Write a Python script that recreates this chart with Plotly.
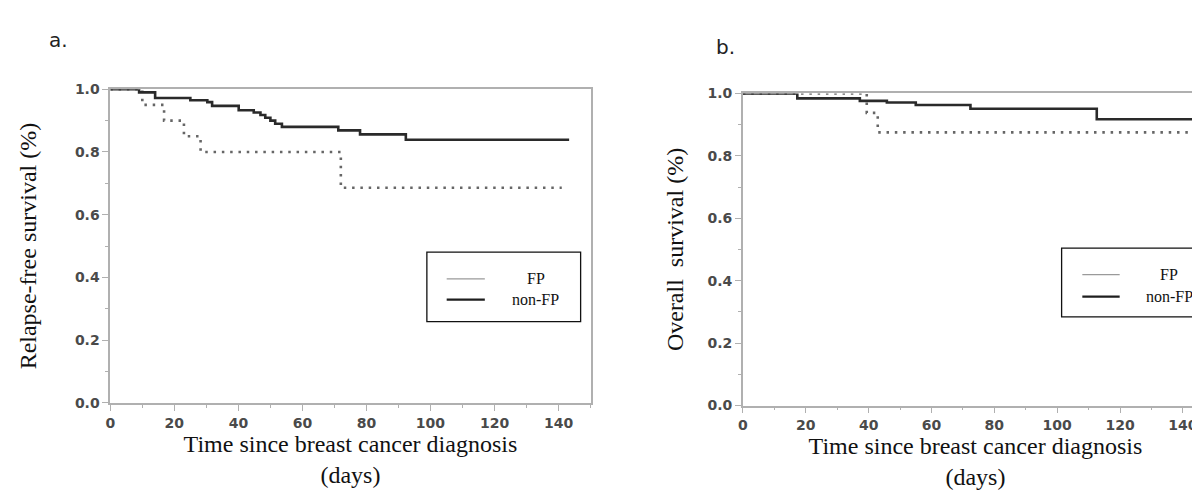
import plotly.graph_objects as go

# ---- data ----
# Panel a: relapse-free survival
a_nonfp_days = [0, 9, 14, 25, 30.3, 31.8, 40.1, 44.8, 46.9, 48.4, 50, 51.5, 53.6, 71.2, 78, 92.3, 143.3]
a_nonfp_surv = [1.0, 0.990, 0.972, 0.965, 0.959, 0.947, 0.933, 0.926, 0.918, 0.909, 0.900, 0.890, 0.880, 0.869, 0.856, 0.839, 0.839]
a_fp_days = [0, 10, 16.8, 23, 28.2, 72, 141]
a_fp_surv = [1.0, 0.95, 0.90, 0.85, 0.80, 0.686, 0.686]

# Panel b: overall survival
b_nonfp_days = [0, 17.3, 37.2, 45.8, 55, 72.4, 112.6, 146.5]
b_nonfp_surv = [1.0, 0.984, 0.976, 0.971, 0.963, 0.951, 0.917, 0.917]
b_fp_days = [0, 39.4, 42.9, 144.8]
b_fp_surv = [1.0, 0.9375, 0.875, 0.875]

group_names = ["FP", "non-FP"]
x_ticks = [0, 20, 40, 60, 80, 100, 120, 140]
y_ticks = [0.0, 0.2, 0.4, 0.6, 0.8, 1.0]
y_ticklabels = ["0.0", "0.2", "0.4", "0.6", "0.8", "1.0"]
panel_labels = ["a.", "b."]
x_title = "Time since breast cancer diagnosis<br>(days)"
y_titles = ["Relapse-free survival (%)", "Overall  survival (%)"]

W, H = 1200, 490
SERIF = "Liberation Serif, Times New Roman, serif"
SANS = "DejaVu Sans, Verdana, sans-serif"
NB = "\u00a0"

SOLID = dict(color="#2a2a2a", width=2.6, shape="hv")
DOTTED = dict(color="#666666", width=2.6, shape="hv", dash="2.5px,5.8px")

fig = go.Figure()

# curves
fig.add_trace(go.Scatter(x=a_fp_days, y=a_fp_surv, mode="lines", line=DOTTED,
                         showlegend=False, xaxis="x", yaxis="y", name=group_names[0]))
fig.add_trace(go.Scatter(x=a_nonfp_days, y=a_nonfp_surv, mode="lines", line=SOLID,
                         showlegend=False, xaxis="x", yaxis="y", name=group_names[1]))
fig.add_trace(go.Scatter(x=b_fp_days, y=b_fp_surv, mode="lines", line=DOTTED,
                         showlegend=False, xaxis="x2", yaxis="y2", name=group_names[0]))
fig.add_trace(go.Scatter(x=b_nonfp_days, y=b_nonfp_surv, mode="lines", line=SOLID,
                         showlegend=False, xaxis="x2", yaxis="y2", name=group_names[1]))

AX_GREY = "#b0b0b0"
axis_common = dict(
    showline=True, linecolor=AX_GREY, linewidth=1.6, mirror=True,
    ticks="outside", ticklen=6, tickwidth=1.3, tickcolor=AX_GREY,
    showgrid=False, zeroline=False,
    tickfont=dict(family=SANS, size=14, color="#4a4a4a", weight="bold"),
)
TITLE_FONT = dict(family=SERIF, size=24, color="#111111")

xa_common = dict(axis_common, tickvals=x_ticks,
                 minor=dict(dtick=10, tick0=0, ticks="outside", ticklen=3, tickcolor=AX_GREY, showgrid=False),
                 title=dict(text=x_title, font=TITLE_FONT, standoff=5))
ya_common = dict(axis_common, tickvals=y_ticks, ticktext=y_ticklabels, range=[0, 1.0],
                 minor=dict(dtick=0.1, tick0=0, ticks="outside", ticklen=3, tickcolor=AX_GREY, showgrid=False))

def px(x):
    return x / W

def py(y):
    return 1 - y / H

# legend drawn as in the original figure: framed box, short line samples, centred labels
shapes = []
annotations = []
legend_boxes = [
    # box x0, x1, y0, y1, line x0, x1, row ys, text centre x
    (415.6, 570, 244, 316, 435.5, 473.8, [271.7, 293.3], 525),
    (1053, 1225, 240, 311, 1073.8, 1111.3, [267.3, 290.0], 1161),
]
leg_styles = [dict(color="#9a9a9a", width=1.3), dict(color="#1e1e1e", width=2.2)]
for bx0, bx1, by0, by1, lx0, lx1, rows, tx in legend_boxes:
    shapes.append(dict(type="rect", xref="paper", yref="paper", x0=px(bx0), x1=px(bx1),
                       y0=py(by1), y1=py(by0), line=dict(color="#111111", width=1.3),
                       fillcolor="rgba(0,0,0,0)"))
    for name, st, ry in zip(group_names, leg_styles, rows):
        shapes.append(dict(type="line", xref="paper", yref="paper", x0=px(lx0), x1=px(lx1),
                           y0=py(ry), y1=py(ry), line=st))
        annotations.append(dict(text=name, x=px(tx), y=py(ry), xref="paper", yref="paper",
                                showarrow=False, xanchor="center", yanchor="middle",
                                font=dict(family=SERIF, size=16, color="#111111")))

for lab, (lx, ly) in zip(panel_labels, [(46, 25), (715, 32)]):
    annotations.append(dict(text=lab, x=px(lx), y=py(ly), xref="paper", yref="paper", showarrow=False,
                            font=dict(family=SANS, size=20, color="#222222"),
                            xanchor="center", yanchor="middle"))

fig.update_layout(
    width=W, height=H,
    margin=dict(l=0, r=0, t=0, b=0),
    paper_bgcolor="white", plot_bgcolor="white",
    showlegend=False,
    xaxis=dict(xa_common, domain=[px(97.7), px(580)], range=[0, 150], anchor="y"),
    yaxis=dict(ya_common, domain=[py(400), py(75.7)], anchor="x",
               title=dict(text=y_titles[0] + NB * 6, font=TITLE_FONT, standoff=31)),
    xaxis2=dict(xa_common, domain=[px(733), 1.0], range=[0, 148], anchor="y2"),
    yaxis2=dict(ya_common, domain=[py(402.7), py(80)], anchor="x2", mirror=False,
                title=dict(text=y_titles[1], font=TITLE_FONT, standoff=17)),
    shapes=shapes,
    annotations=annotations,
)

fig.write_html("out.html")
